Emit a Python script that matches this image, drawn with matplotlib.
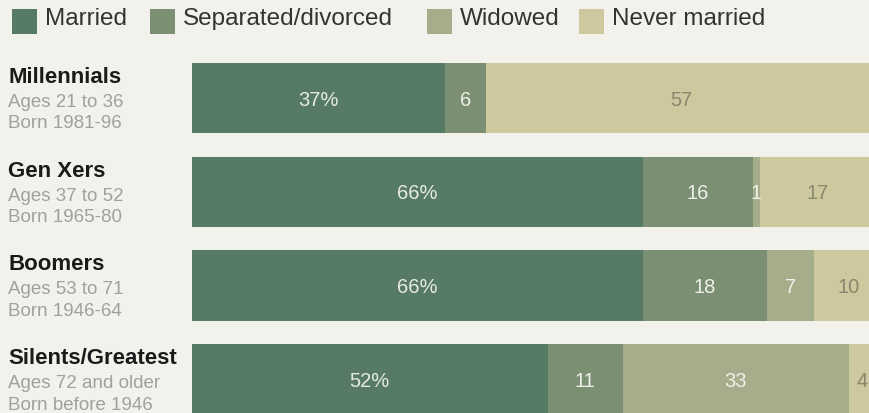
import matplotlib
matplotlib.use("Agg")
import matplotlib.pyplot as plt
from matplotlib.patches import Rectangle

categories = ["Married", "Separated/divorced", "Widowed", "Never married"]
generations = ["Millennials", "Gen Xers", "Boomers", "Silents/Greatest"]
ages = ["Ages 21 to 36", "Ages 37 to 52", "Ages 53 to 71", "Ages 72 and older"]
born = ["Born 1981-96", "Born 1965-80", "Born 1946-64", "Born before 1946"]
married = [37, 66, 66, 52]
separated = [6, 16, 18, 11]
widowed = [0, 1, 7, 33]
never = [57, 17, 10, 4]
bar_labels = [
    ["37%", "6", "", "57"],
    ["66%", "16", "1", "17"],
    ["66%", "18", "7", "10"],
    ["52%", "11", "33", "4"],
]

colors = ["#567a63", "#7b8f72", "#a6ad8a", "#cdc89e"]
label_colors = ["#e6ebe2", "#eef0e8", "#f0f0ea", "#8a876c"]
bg = "#f2f1ec"

plt.rcParams['font.family'] = ['Liberation Sans', 'DejaVu Sans']

W, H = 869, 413
fig = plt.figure(figsize=(W / 100, H / 100), dpi=100, facecolor=bg)

x0 = 192 / W
ax = fig.add_axes([x0, 0, 1 - x0, 1])
ax.set_facecolor(bg)
ax.set_xlim(0, (W - 192) / 6.84)
spacing = 93.7
top_center = 98
ax.set_ylim((H - top_center) / spacing, -top_center / spacing)
ax.axis("off")

series = [married, separated, widowed, never]
n = len(generations)
for i in range(n):
    left = 0
    for j, s in enumerate(series):
        v = s[i]
        if v > 0:
            ax.barh(i, v, left=left, height=0.75, color=colors[j], linewidth=0)
            lab = bar_labels[i][j]
            if lab:
                ax.text(left + v / 2, i, lab, ha="center", va="center_baseline",
                        fontsize=14.5, color=label_colors[j])
        left += v

# left labels
for i in range(n):
    yc = top_center + i * spacing
    fig.text(8 / W, 1 - (yc - 15) / H, generations[i], ha="left", va="baseline",
             fontsize=16, fontweight="bold", color="#1a1a1a")
    fig.text(8 / W, 1 - (yc + 9) / H, ages[i], ha="left", va="baseline",
             fontsize=13.5, color="#a0a0a0")
    fig.text(8 / W, 1 - (yc + 30.5) / H, born[i], ha="left", va="baseline",
             fontsize=13.5, color="#a0a0a0")

# legend
patch_x = [12, 150, 427, 579]
for j, cat in enumerate(categories):
    fig.patches.append(Rectangle((patch_x[j] / W, 1 - 34 / H), 25 / W, 25 / H,
                                 transform=fig.transFigure, color=colors[j],
                                 linewidth=0))
    fig.text((patch_x[j] + 33) / W, 1 - 25 / H, cat, ha="left", va="baseline",
             fontsize=17.5, color="#333333")

fig.savefig("out.png", dpi=100, facecolor=bg)
